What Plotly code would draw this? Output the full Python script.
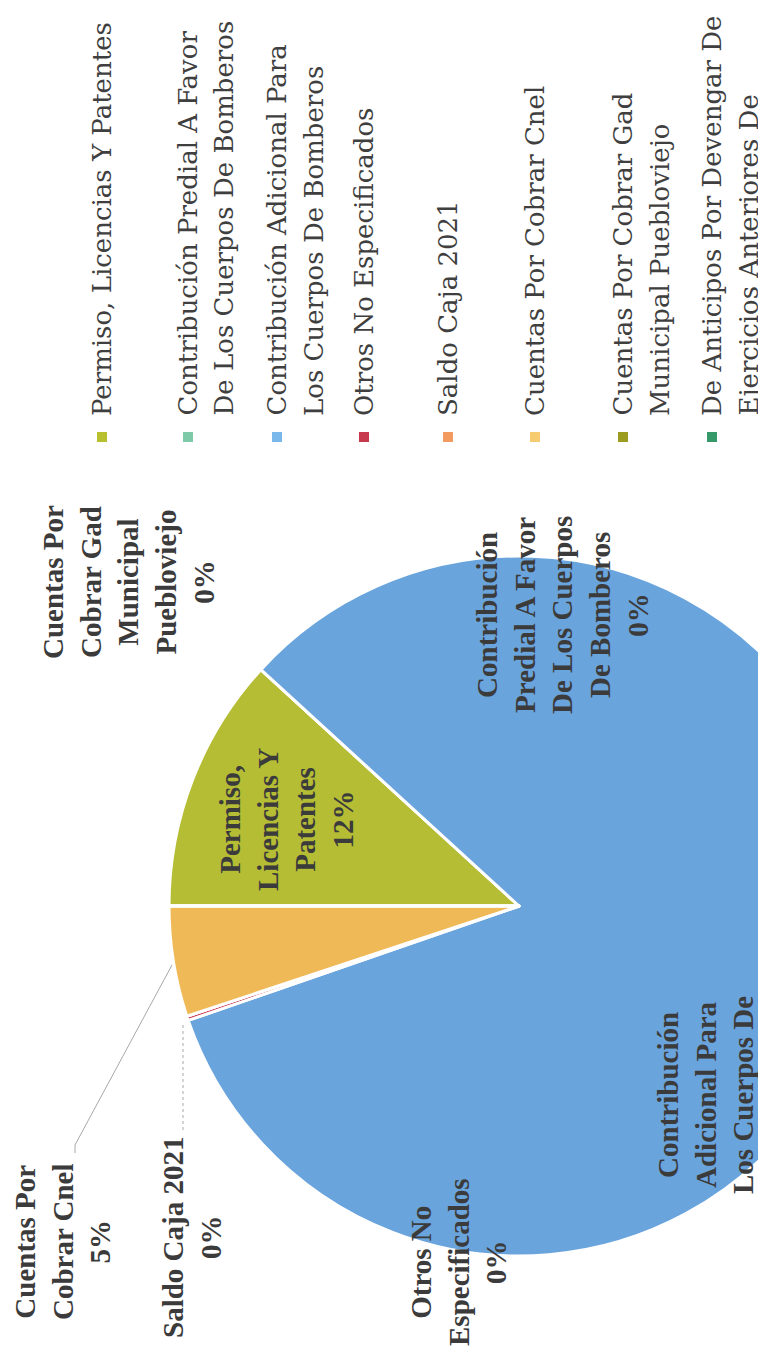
import plotly.graph_objects as go

# ---------------- data ----------------
categories = [
    "Permiso, Licencias Y Patentes",
    "Contribución Predial A Favor De Los Cuerpos De Bomberos",
    "Contribución Adicional Para Los Cuerpos De Bomberos",
    "Otros No Especificados",
    "Saldo Caja 2021",
    "Cuentas Por Cobrar Cnel",
    "Cuentas Por Cobrar Gad Municipal Puebloviejo",
    "De Anticipos Por Devengar De Ejercicios Anteriores De",
]
values = [11.8, 0.0, 82.9, 0.2, 0.0, 5.1, 0.0, 0.0]
percent_text = ["12%", "0%", None, "0%", "0%", "5%", "0%", None]

# data-label line breaks (as printed; the big slice's label is cut by the page edge)
label_lines = [
    ["Permiso,", "Licencias Y", "Patentes"],
    ["Contribución", "Predial A Favor", "De Los Cuerpos", "De Bomberos"],
    ["Contribución", "Adicional Para", "Los Cuerpos De"],
    ["Otros No", "Especificados"],
    ["Saldo Caja 2021"],
    ["Cuentas Por", "Cobrar Cnel"],
    ["Cuentas Por", "Cobrar Gad", "Municipal", "Puebloviejo"],
    None,
]
# legend line breaks (as printed)
legend_lines = [
    ["Permiso, Licencias Y Patentes"],
    ["Contribución Predial A Favor", "De Los Cuerpos De Bomberos"],
    ["Contribución Adicional Para", "Los Cuerpos De Bomberos"],
    ["Otros No Especificados"],
    ["Saldo Caja 2021"],
    ["Cuentas Por Cobrar Cnel"],
    ["Cuentas Por Cobrar Gad", "Municipal Puebloviejo"],
    ["De Anticipos Por Devengar De", "Ejercicios Anteriores De"],
]

# ---------------- styles / layout ----------------
colors = ["#b5bd35", "#7cc8a7", "#6aa4dd", "#cc3f55",
          "#f0935c", "#efb957", "#9b9b20", "#33996a"]
legend_colors = ["#b8c030", "#7dc9a8", "#7ab8ec", "#c73a4e",
                 "#f29a60", "#f7cb70", "#9c9c20", "#35996a"]

W, H = 880, 1349
OX, OY = 8, 8  # page body margin


def px(X):
    return (X - OX) / W


def py(Y):
    return 1 - (Y - OY) / H


CX, CY, R = 519, 906, 350

fig = go.Figure()
fig.add_trace(go.Pie(
    labels=categories, values=values, sort=False,
    direction="clockwise", rotation=-90,
    marker=dict(colors=colors, line=dict(color="white", width=3)),
    textinfo="none", hoverinfo="label+percent", showlegend=False,
    domain=dict(x=[px(CX - R), px(CX + R)], y=[py(CY + R), py(CY - R)]),
))

# data label centres (window px)
label_pos = [(286, 820), (562, 615), (705, 1095), (458, 1262),
             (192, 1238), (62, 1242), (128, 582), None]
annotations = []
for i, pos in enumerate(label_pos):
    if pos is None:
        continue
    lines = list(label_lines[i])
    if percent_text[i]:
        lines.append(percent_text[i])
    annotations.append(dict(
        x=px(pos[0]), y=py(pos[1]), xref="paper", yref="paper",
        text="<br>".join(lines), showarrow=False, textangle=-90,
        xanchor="center", yanchor="middle", align="center",
        font=dict(family="Liberation Serif", size=29, color="#3b3b3b",
                  weight="bold"),
    ))

# legend (rotated)
legend_x = [[102], [188, 224], [277, 314], [364], [448], [535],
            [623, 660], [712, 749]]
LEG_TEXT_Y = 418
LEG_MARK_Y = 437
shapes = []
for i, lines in enumerate(legend_lines):
    for j, line in enumerate(lines):
        annotations.append(dict(
            x=px(legend_x[i][j]), y=py(LEG_TEXT_Y), xref="paper", yref="paper",
            text=line, showarrow=False, textangle=-90,
            xanchor="center", yanchor="bottom",
            font=dict(family="DejaVu Serif", size=26, color="#3f3f3f"),
        ))
    mx = legend_x[i][0]
    shapes.append(dict(
        type="rect", xref="paper", yref="paper",
        x0=px(mx - 5), x1=px(mx + 5), y0=py(LEG_MARK_Y + 5), y1=py(LEG_MARK_Y - 5),
        fillcolor=legend_colors[i], line=dict(width=0),
    ))


# leader lines
def path(points):
    return "M " + " L ".join(f"{px(x):.5f},{py(y):.5f}" for x, y in points)


shapes.append(dict(type="path", xref="paper", yref="paper",
                   path=path([(75, 1153), (75, 1145), (172, 965)]),
                   line=dict(color="#a8a8a8", width=1)))
shapes.append(dict(type="path", xref="paper", yref="paper",
                   path=path([(183, 1130), (183, 1025)]),
                   line=dict(color="#a8a8a8", width=1, dash="dot")))

fig.update_layout(
    width=W, height=H,
    margin=dict(l=0, r=0, t=0, b=0, pad=0),
    paper_bgcolor="white", plot_bgcolor="white",
    showlegend=False,
    annotations=annotations, shapes=shapes,
)

fig.write_html("out.html")
